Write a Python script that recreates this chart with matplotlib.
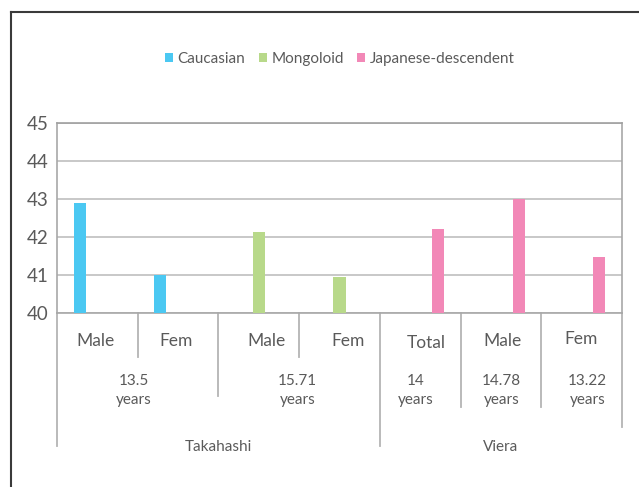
import numpy as np
import matplotlib.pyplot as plt
from matplotlib.patches import Patch
from matplotlib.lines import Line2D

plt.rcParams['font.family'] = ['Lato', 'DejaVu Sans']

# data
categories = ['Male', 'Fem', 'Male', 'Fem', 'Total', 'Male', 'Fem']
caucasian = [42.9, 41.0, None, None, None, None, None]
mongoloid = [None, None, 42.13, 40.96, None, None, None]
japanese = [None, None, None, None, 42.21, 43.0, 41.48]
series_names = ['Caucasian', 'Mongoloid', 'Japanese-descendent']
age_labels = ['13.5\nyears', '15.71\nyears', '14\nyears', '14.78\nyears', '13.22\nyears']
age_spans = [(0, 2), (2, 4), (4, 5), (5, 6), (6, 7)]
study_labels = ['Takahashi', 'Viera']
study_spans = [(0, 4), (4, 7)]

colors = ['#4BC8F2', '#B8D98A', '#F288B7']
text_col = '#5a5a5a'
line_col = '#b4b4b4'

fig = plt.figure(figsize=(6.39, 4.87), dpi=100)
ax = fig.add_axes([57 / 639, 1 - 313.3 / 487, 565 / 639, 190.6 / 487])

x = np.arange(len(categories))
offsets = [-0.22, 0.0, 0.22]
for vals, off, col in zip([caucasian, mongoloid, japanese], offsets, colors):
    xs = [xi + off for xi, v in zip(x, vals) if v is not None]
    hs = [v for v in vals if v is not None]
    ax.bar(xs, hs, width=0.15, color=col, zorder=3)

ax.set_xlim(-0.5, len(categories) - 0.5)
ax.set_ylim(40, 45)
ax.set_yticks(range(40, 46))
ax.tick_params(axis='y', length=0, pad=6, labelsize=13.5, labelcolor=text_col)
ax.tick_params(axis='x', length=0, labelbottom=False)
ax.grid(axis='y', color='#c4c4c4', linewidth=1.3, zorder=0)
for s in ['top', 'left', 'right', 'bottom']:
    ax.spines[s].set_color('#a8a8a8')
    ax.spines[s].set_linewidth(1.2)
ax.spines['top'].set_color('#a0a0a0')

trans = ax.get_xaxis_transform()


def vline(xpos, ybottom):
    ax.plot([xpos, xpos], [0, ybottom], color=line_col, lw=1.3,
            transform=trans, clip_on=False)


# category separators with their different depths
sep_depth = {-0.5: -0.695, 0.5: -0.228, 1.5: -0.434, 2.5: -0.228,
             3.5: -0.695, 4.5: -0.492, 5.5: -0.492, 6.5: -0.595}
for xp, yb in sep_depth.items():
    vline(xp, yb)

# small nudges of the category labels, as placed in the original
nudge_x = [-0.02, -0.02, 0.1, 0.1, 0.07, 0.02, -0.01]
nudge_y = [0, 0, 0, 0, -0.012, 0, 0.008]
for xi, lab, dx, dy in zip(x, categories, nudge_x, nudge_y):
    ax.text(xi + dx, -0.145 + dy, lab, transform=trans, ha='center', va='center',
            fontsize=12.5, color=text_col)

age_nudge = [-0.05, -0.02, -0.06, 0.01, 0.07]
for (a, b), lab, dx in zip(age_spans, age_labels, age_nudge):
    ax.text((a + b - 1) / 2 + dx, -0.405, lab, transform=trans, ha='center',
            va='center', fontsize=11, color=text_col, linespacing=1.4)

for (a, b), lab in zip(study_spans, study_labels):
    ax.text((a + b - 1) / 2, -0.70, lab, transform=trans, ha='center', va='center',
            fontsize=11, color=text_col)

handles = [Patch(facecolor=c, edgecolor='none') for c in colors]
fig.legend(handles, series_names, loc='center', bbox_to_anchor=(0.532, 0.879),
           ncol=3, frameon=False, fontsize=11, handlelength=0.5, handleheight=0.5,
           handletextpad=0.3, columnspacing=0.9, labelcolor=text_col)

# outer frame (top and left edges only visible)
fig.add_artist(Line2D([11 / 639, 1], [1 - 12 / 487, 1 - 12 / 487], color='#3a3a3a', lw=1.5))
fig.add_artist(Line2D([11 / 639, 11 / 639], [0, 1 - 12 / 487], color='#3a3a3a', lw=1.5))

fig.savefig('out.png', dpi=100)
